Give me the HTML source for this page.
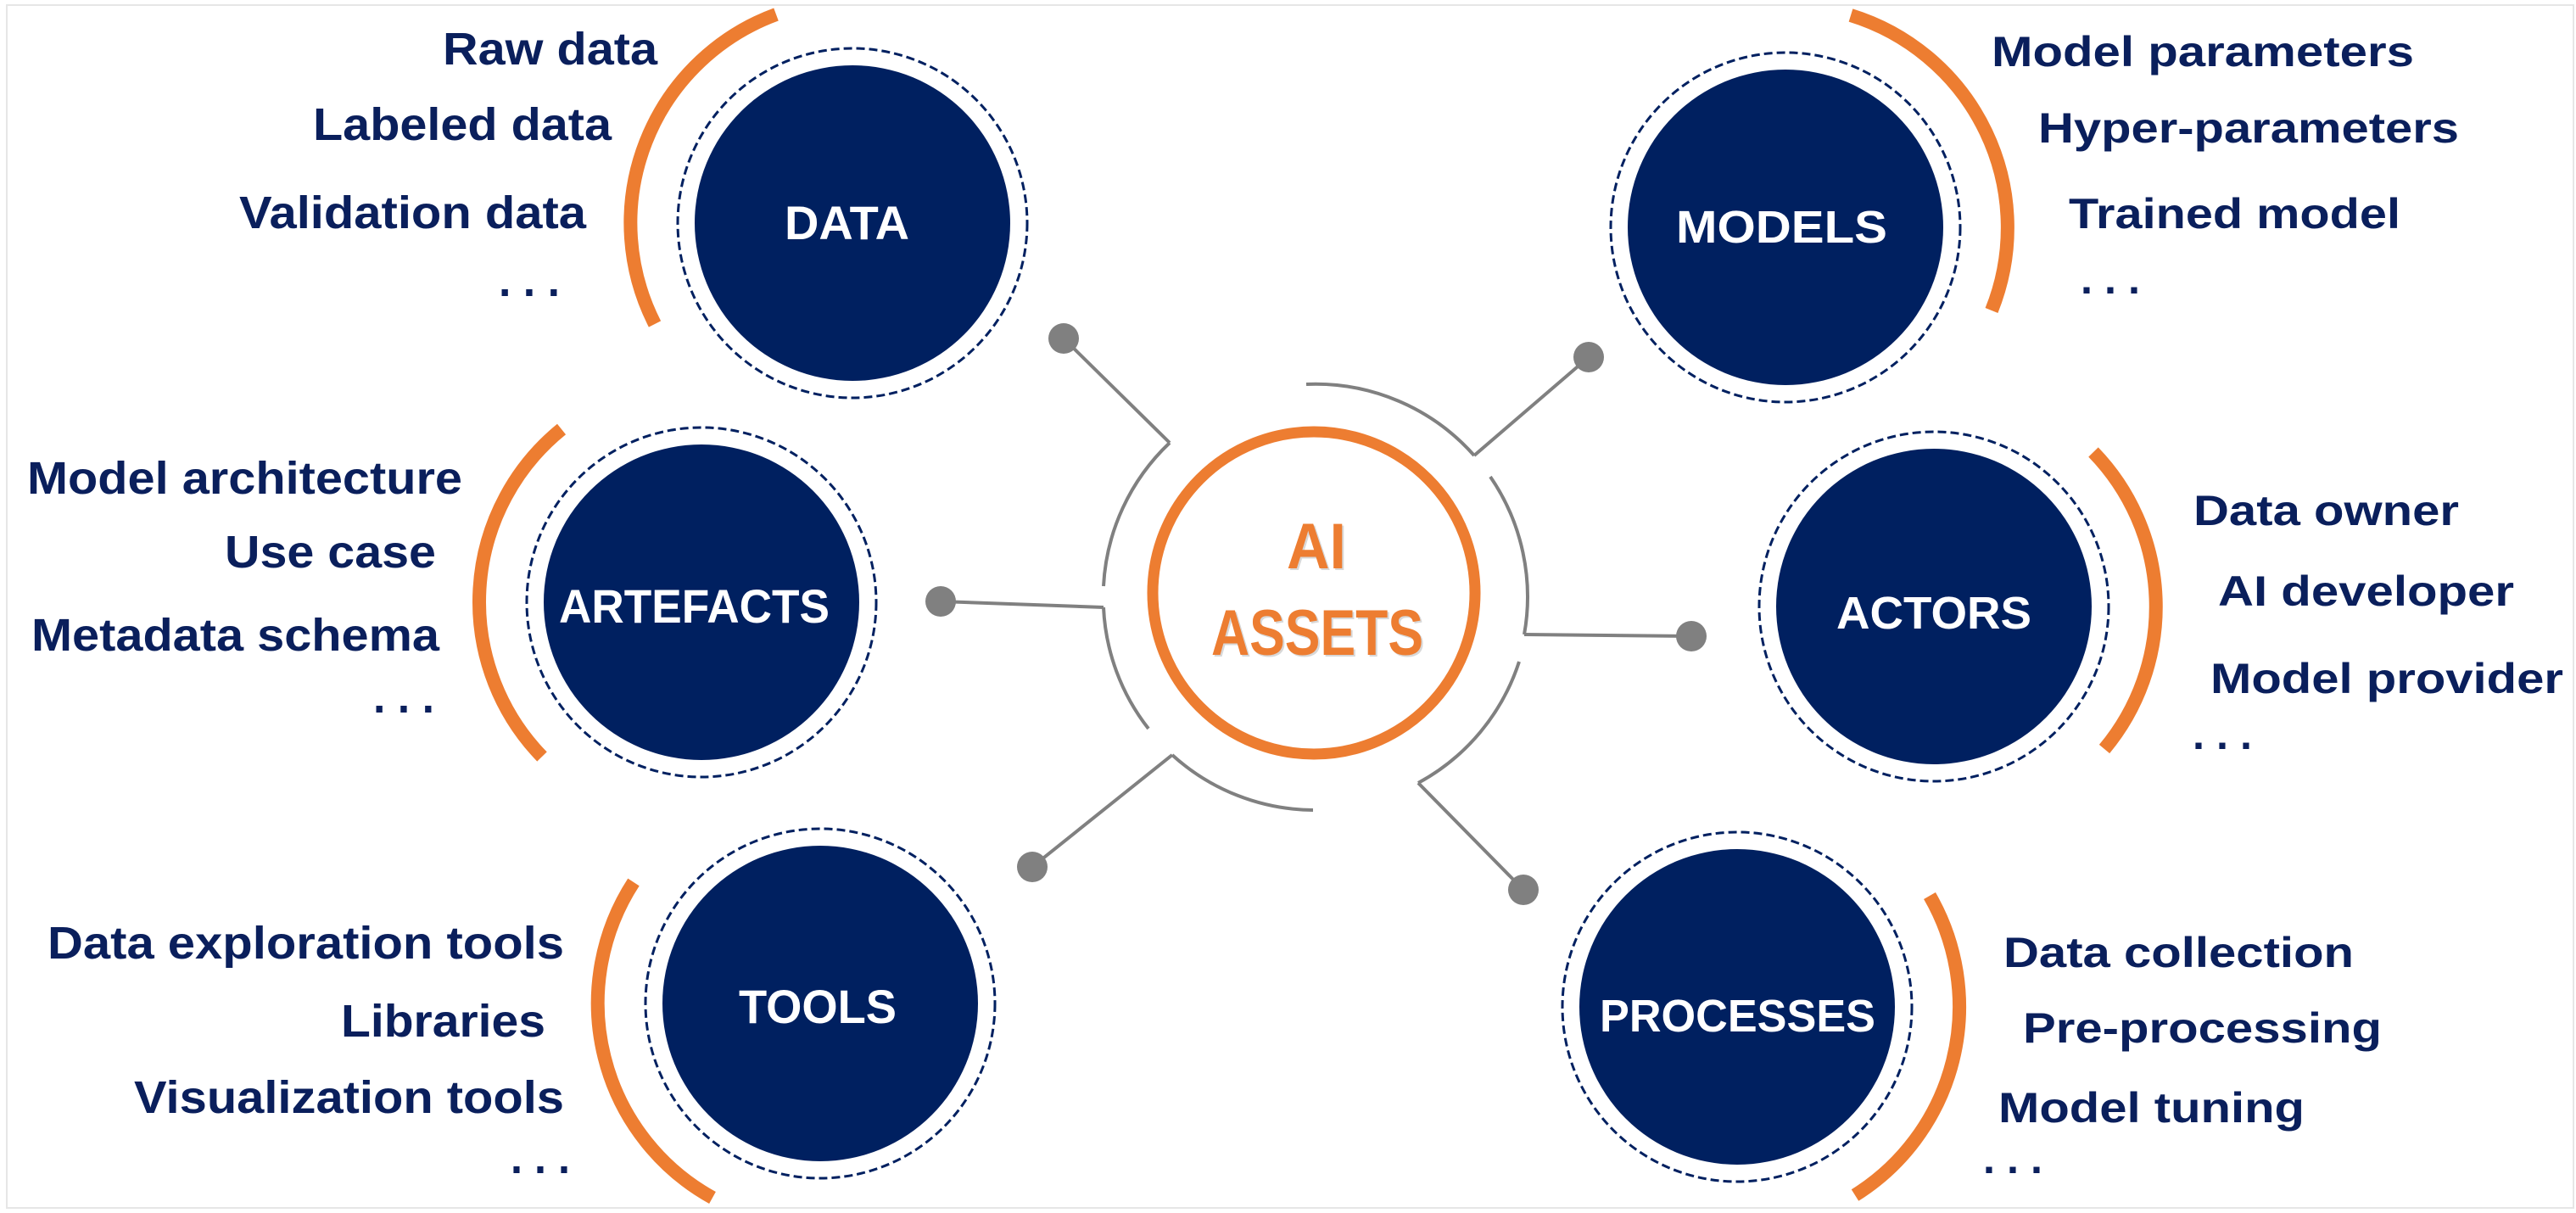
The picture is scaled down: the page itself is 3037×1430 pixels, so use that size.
<!DOCTYPE html>
<html><head><meta charset="utf-8"><style>
html,body{margin:0;padding:0;background:#fff}
svg{display:block}
.n{font-family:"Liberation Sans Narrow","Liberation Sans",sans-serif;font-weight:bold;fill:#0a1f5c;font-size:54px}
.w{font-family:"Liberation Sans",sans-serif;font-weight:bold;fill:#0a1f5c;font-size:50px}
.ln{font-family:"Liberation Sans Narrow","Liberation Sans",sans-serif;font-weight:bold;fill:#fff;font-size:56px}
.lw{font-family:"Liberation Sans",sans-serif;font-weight:bold;fill:#fff;font-size:54px}
.o{fill:none;stroke:#ED7D31;stroke-width:16}
.g{fill:none;stroke:#808080;stroke-width:4}
.s{fill:#002060}
.d{fill:none;stroke:#002060;stroke-width:3;stroke-dasharray:10 5}
</style></head><body>
<svg width="3037" height="1430" viewBox="0 0 3037 1430" xmlns="http://www.w3.org/2000/svg">
<rect x="8" y="6" width="3026" height="1418" fill="#fff" stroke="#e6e6e6" stroke-width="2"/>

<!-- center -->
<circle cx="1549" cy="699" r="190" fill="none" stroke="#ED7D31" stroke-width="13"/>
<g style="font-family:'Liberation Sans',sans-serif;font-weight:bold;font-size:76px" fill="#ED7D31">
<text x="1519" y="672" textLength="70" lengthAdjust="spacingAndGlyphs" fill="#d8d8d8">AI</text>
<text x="1517" y="670" textLength="70" lengthAdjust="spacingAndGlyphs">AI</text>
<text x="1430" y="774" textLength="250" lengthAdjust="spacingAndGlyphs" fill="#d8d8d8">ASSETS</text>
<text x="1428" y="772" textLength="250" lengthAdjust="spacingAndGlyphs">ASSETS</text>
</g>

<!-- gray arcs -->
<path class="g" d="M1540 453 A250 250 0 0 1 1738 537"/>
<path class="g" d="M1757 562 A250 250 0 0 1 1797 748"/>
<path class="g" d="M1791 780 A250 250 0 0 1 1672 923"/>
<path class="g" d="M1548 955 A250 250 0 0 1 1382 890"/>
<path class="g" d="M1354 859 A250 250 0 0 1 1301 716"/>
<path class="g" d="M1301 691 A250 250 0 0 1 1379 522"/>
<!-- connectors -->
<line class="g" x1="1254" y1="399" x2="1379" y2="522"/>
<line class="g" x1="1873" y1="421" x2="1738" y2="537"/>
<line class="g" x1="1797" y1="748" x2="1994" y2="750"/>
<line class="g" x1="1672" y1="923" x2="1796" y2="1049"/>
<line class="g" x1="1382" y1="890" x2="1217" y2="1022"/>
<line class="g" x1="1301" y1="716" x2="1109" y2="709"/>
<g fill="#808080">
<circle cx="1254" cy="399" r="18"/><circle cx="1873" cy="421" r="18"/>
<circle cx="1994" cy="750" r="18"/><circle cx="1796" cy="1049" r="18"/>
<circle cx="1217" cy="1022" r="18"/><circle cx="1109" cy="709" r="18"/>
</g>

<!-- nodes -->
<circle class="d" cx="1005" cy="263" r="206"/><circle class="s" cx="1005" cy="263" r="186"/>
<circle class="d" cx="2105" cy="268" r="206"/><circle class="s" cx="2105" cy="268" r="186"/>
<circle class="d" cx="827" cy="710" r="206"/><circle class="s" cx="827" cy="710" r="186"/>
<circle class="d" cx="2280" cy="715" r="206"/><circle class="s" cx="2280" cy="715" r="186"/>
<circle class="d" cx="967" cy="1183" r="206"/><circle class="s" cx="967" cy="1183" r="186"/>
<circle class="d" cx="2048" cy="1187" r="206"/><circle class="s" cx="2048" cy="1187" r="186"/>

<text class="ln" x="925" y="282" textLength="147" lengthAdjust="spacingAndGlyphs">DATA</text>
<text class="lw" x="1976" y="286" textLength="249" lengthAdjust="spacingAndGlyphs">MODELS</text>
<text class="ln" x="659" y="734" textLength="319" lengthAdjust="spacingAndGlyphs">ARTEFACTS</text>
<text class="lw" x="2165" y="741" textLength="230" lengthAdjust="spacingAndGlyphs">ACTORS</text>
<text class="ln" x="871" y="1206" textLength="186" lengthAdjust="spacingAndGlyphs">TOOLS</text>
<text class="lw" x="1886" y="1216" textLength="325" lengthAdjust="spacingAndGlyphs">PROCESSES</text>

<!-- orange arcs -->
<path class="o" d="M772 382 A262 262 0 0 1 915 17"/>
<path class="o" d="M639 892 A262 262 0 0 1 662 506"/>
<path class="o" d="M840 1412 A262 262 0 0 1 747 1040"/>
<path class="o" d="M2182 18 A262 262 0 0 1 2348 366"/>
<path class="o" d="M2468 533 A262 262 0 0 1 2481 883"/>
<path class="o" d="M2275 1056 A262 262 0 0 1 2187 1409"/>

<!-- left texts -->
<text class="n" x="522" y="76" textLength="253" lengthAdjust="spacingAndGlyphs">Raw data</text>
<text class="n" x="369" y="165" textLength="352" lengthAdjust="spacingAndGlyphs">Labeled data</text>
<text class="n" x="282" y="269" textLength="409" lengthAdjust="spacingAndGlyphs">Validation data</text>
<text class="n" x="588" y="349" textLength="72" lengthAdjust="spacingAndGlyphs">. . .</text>

<text class="n" x="32" y="582" textLength="513" lengthAdjust="spacingAndGlyphs">Model architecture</text>
<text class="n" x="265" y="669" textLength="249" lengthAdjust="spacingAndGlyphs">Use case</text>
<text class="n" x="37" y="767" textLength="481" lengthAdjust="spacingAndGlyphs">Metadata schema</text>
<text class="n" x="440" y="840" textLength="72" lengthAdjust="spacingAndGlyphs">. . .</text>

<text class="n" x="56" y="1130" textLength="609" lengthAdjust="spacingAndGlyphs">Data exploration tools</text>
<text class="n" x="402" y="1222" textLength="241" lengthAdjust="spacingAndGlyphs">Libraries</text>
<text class="n" x="158" y="1312" textLength="507" lengthAdjust="spacingAndGlyphs">Visualization tools</text>
<text class="n" x="602" y="1383" textLength="70" lengthAdjust="spacingAndGlyphs">. . .</text>

<!-- right texts -->
<text class="w" x="2348" y="78" textLength="498" lengthAdjust="spacingAndGlyphs">Model parameters</text>
<text class="w" x="2403" y="168" textLength="496" lengthAdjust="spacingAndGlyphs">Hyper-parameters</text>
<text class="w" x="2439" y="269" textLength="391" lengthAdjust="spacingAndGlyphs">Trained model</text>
<text class="w" x="2453" y="346" textLength="70" lengthAdjust="spacingAndGlyphs">. . .</text>

<text class="w" x="2586" y="619" textLength="313" lengthAdjust="spacingAndGlyphs">Data owner</text>
<text class="w" x="2615" y="714" textLength="349" lengthAdjust="spacingAndGlyphs">AI developer</text>
<text class="w" x="2606" y="817" textLength="416" lengthAdjust="spacingAndGlyphs">Model provider</text>
<text class="w" x="2585" y="883" textLength="70" lengthAdjust="spacingAndGlyphs">. . .</text>

<text class="w" x="2362" y="1140" textLength="413" lengthAdjust="spacingAndGlyphs">Data collection</text>
<text class="w" x="2385" y="1229" textLength="423" lengthAdjust="spacingAndGlyphs">Pre-processing</text>
<text class="w" x="2356" y="1323" textLength="361" lengthAdjust="spacingAndGlyphs">Model tuning</text>
<text class="w" x="2338" y="1383" textLength="70" lengthAdjust="spacingAndGlyphs">. . .</text>
</svg>
</body></html>
